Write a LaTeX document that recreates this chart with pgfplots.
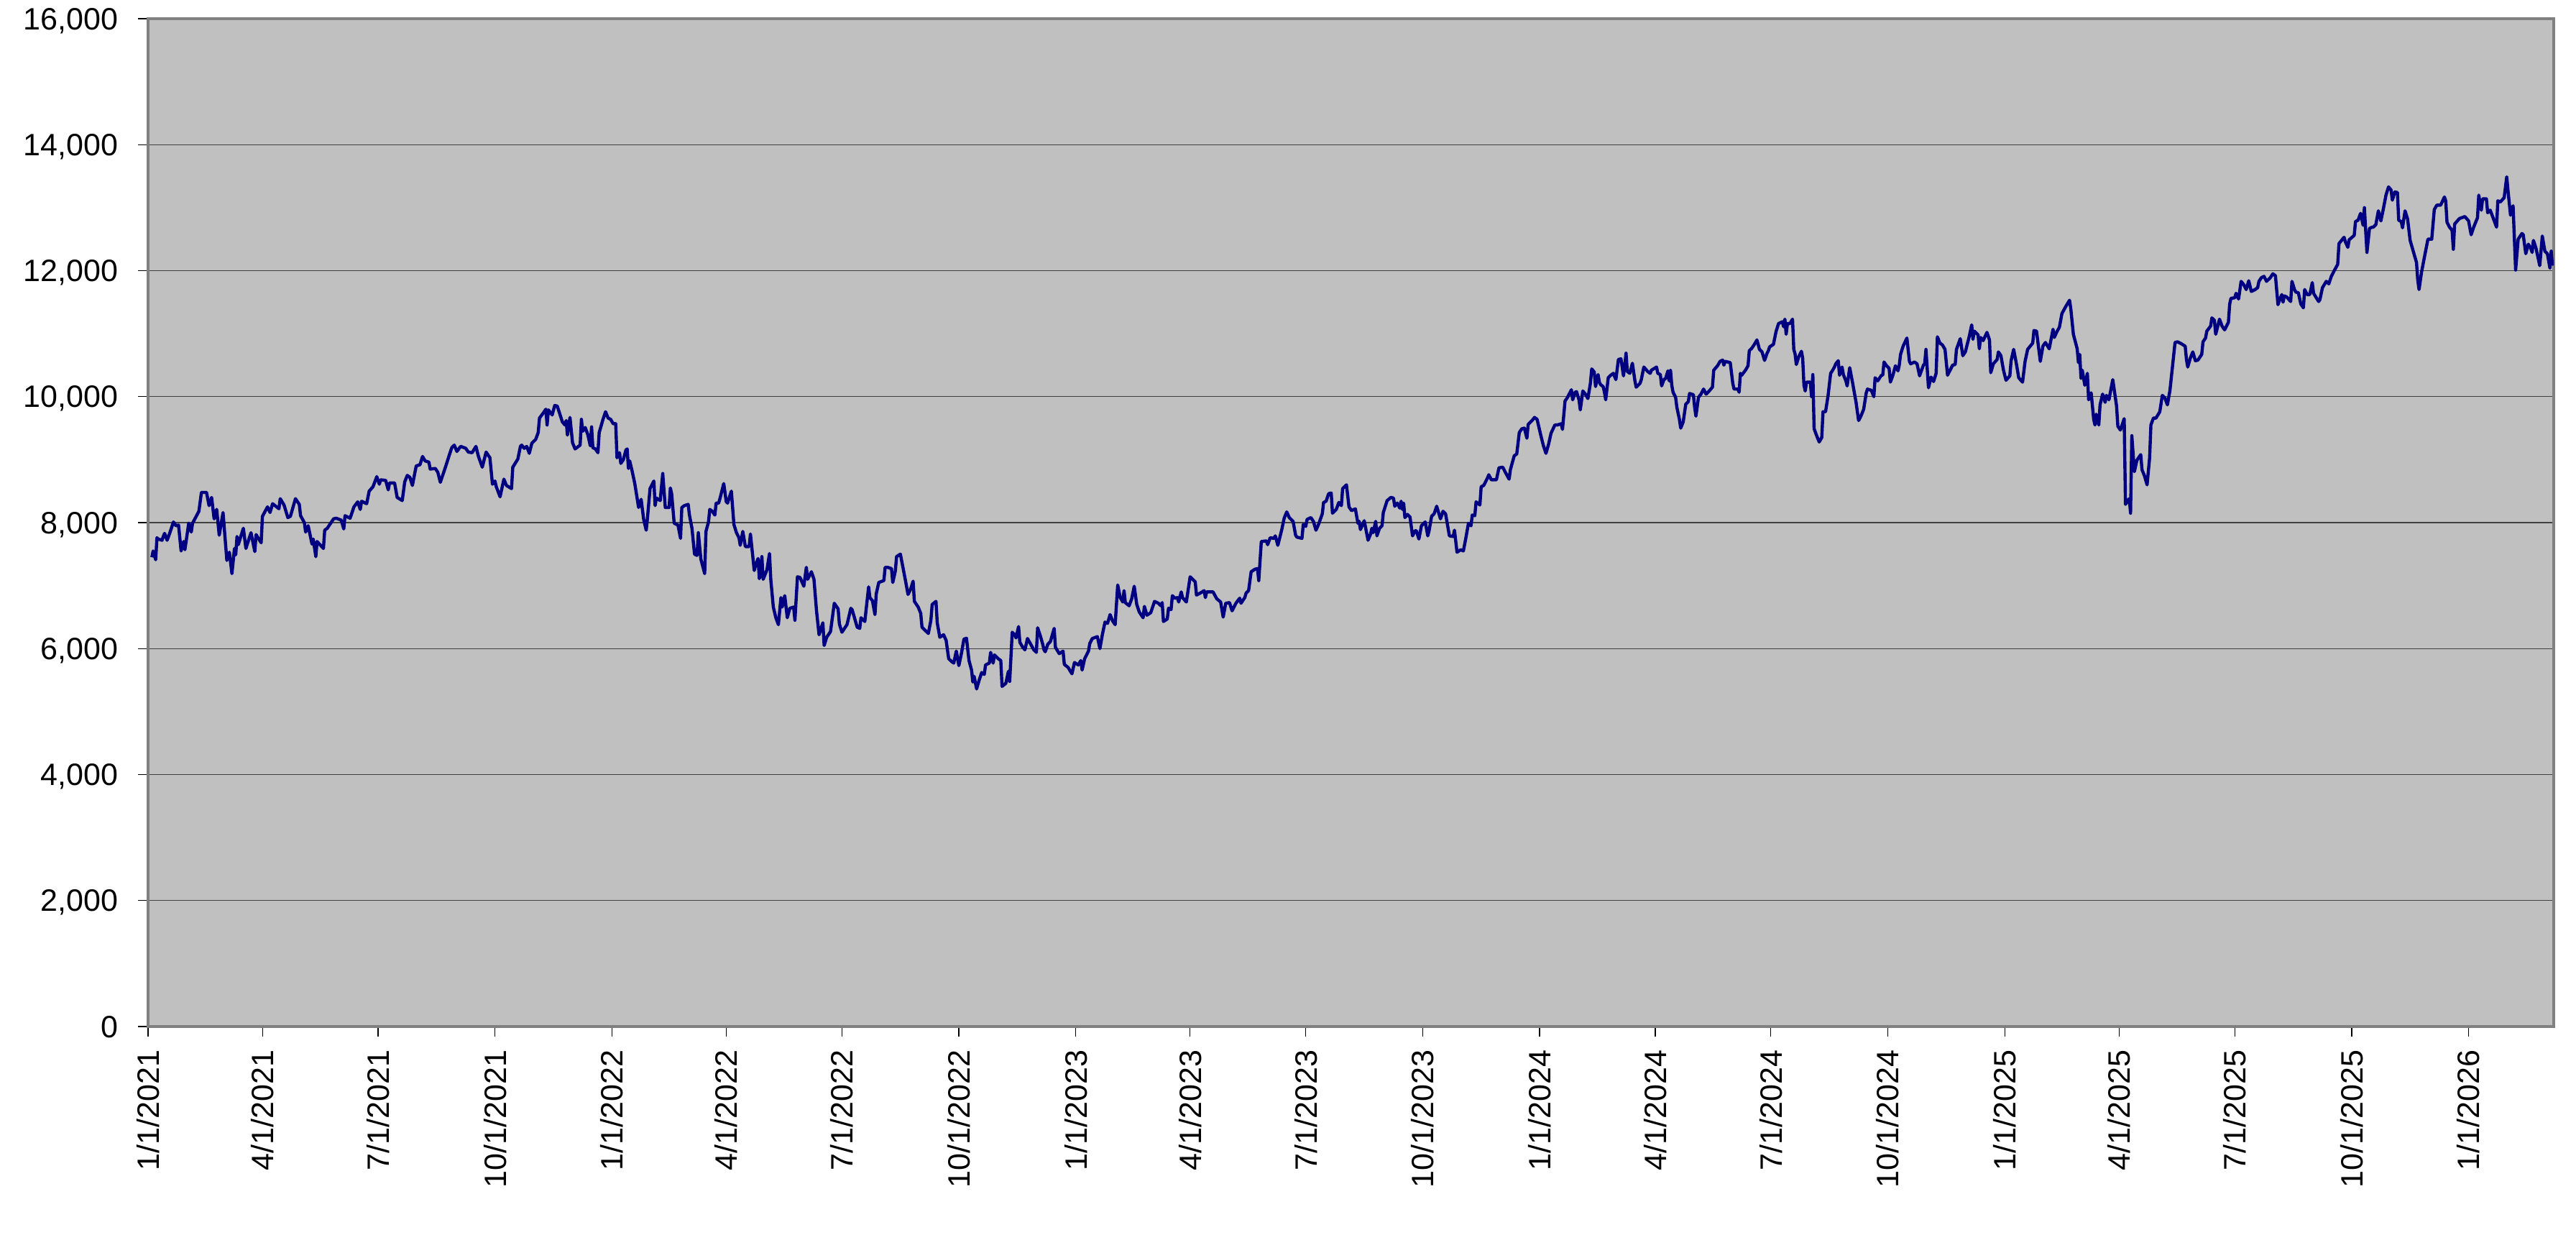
\documentclass[border=0pt]{standalone}
\usepackage{fontspec}
\setmainfont{Liberation Sans}
\usepackage{pgfplots}
\pgfplotsset{compat=1.18}
\usepackage{pgfplotstable}
\definecolor{bggray}{RGB}{192,192,192}
\definecolor{framegray}{RGB}{128,128,128}
\definecolor{gridgray}{RGB}{64,64,64}
\definecolor{navyline}{RGB}{0,0,128}
\pgfplotstableread{
day value
3 7450
4 7550
6 7410
7 7760
8 7740
11 7720
12 7780
13 7830
15 7720
17 7830
20 8010
22 7950
24 7960
26 7550
28 7700
29 7570
32 7990
34 7850
35 7990
40 8180
42 8480
46 8480
48 8270
50 8400
52 8060
54 8210
56 7800
59 8160
62 7400
64 7530
66 7190
68 7590
69 7490
70 7780
71 7650
75 7910
77 7590
81 7840
84 7540
85 7810
89 7680
90 8100
94 8250
96 8160
98 8300
103 8220
104 8380
107 8280
110 8080
112 8100
116 8380
119 8290
120 8110
123 8000
124 7850
126 7950
129 7660
130 7740
132 7460
133 7700
138 7590
139 7880
141 7910
146 8060
148 8070
152 8040
154 7900
155 8110
159 8070
162 8250
165 8330
167 8210
168 8340
172 8300
174 8500
177 8570
180 8730
182 8610
183 8680
187 8670
189 8520
190 8630
194 8630
196 8400
200 8350
202 8650
204 8750
206 8720
208 8590
211 8900
214 8920
216 9050
218 8980
221 8960
222 8850
226 8860
228 8800
230 8640
234 8880
237 9070
239 9190
241 9230
243 9130
246 9210
250 9180
252 9120
255 9110
258 9210
260 9050
263 8880
266 9120
269 9030
271 8610
273 8660
274 8570
277 8410
280 8690
282 8590
286 8540
287 8880
291 9010
293 9210
294 9230
296 9180
298 9210
300 9100
302 9260
305 9320
307 9430
308 9660
311 9740
313 9800
314 9550
315 9790
318 9710
320 9860
322 9850
326 9600
328 9550
329 9620
330 9390
332 9670
334 9270
336 9170
340 9230
341 9640
342 9450
344 9510
346 9400
348 9220
349 9520
350 9190
352 9170
354 9110
355 9430
358 9640
360 9760
362 9660
364 9640
366 9570
368 9570
369 9030
371 9110
372 8940
374 9000
376 9150
377 9170
378 8860
379 8980
381 8810
383 8620
386 8240
388 8370
390 8050
392 7880
393 8080
395 8540
398 8660
399 8270
400 8390
403 8350
405 8780
407 8240
410 8240
411 8550
412 8460
414 7990
417 7960
419 7750
420 8240
422 8270
425 8290
426 8120
428 7910
430 7500
432 7480
433 7840
435 7420
438 7190
439 7860
441 8010
442 8210
444 8180
446 8120
447 8310
449 8310
450 8380
453 8620
455 8330
456 8310
459 8500
461 7970
463 7840
465 7760
466 7640
468 7860
470 7620
473 7620
474 7820
477 7240
478 7320
480 7430
481 7110
482 7210
483 7460
484 7100
487 7250
489 7510
490 7100
492 6660
494 6490
496 6380
498 6810
499 6660
501 6840
503 6490
505 6640
508 6660
509 6450
511 7140
513 7130
516 6990
518 7290
519 7100
522 7220
524 7100
526 6600
528 6220
531 6410
532 6050
534 6180
537 6270
540 6720
543 6630
544 6390
546 6260
550 6380
553 6640
554 6620
558 6340
560 6320
561 6490
564 6430
567 6980
568 6810
570 6760
572 6540
573 6870
575 7050
579 7080
580 7290
582 7290
585 7270
586 7050
588 7230
589 7460
592 7500
594 7290
596 7080
598 6860
600 6940
602 7070
603 6750
606 6660
608 6560
609 6340
614 6240
616 6450
617 6700
620 6750
621 6410
623 6180
626 6220
628 6130
630 5840
632 5800
634 5770
636 5960
638 5730
640 5920
642 6150
644 6165
646 5810
648 5660
649 5470
650 5560
652 5360
654 5500
656 5620
658 5590
659 5740
662 5770
663 5940
665 5770
666 5900
669 5840
671 5810
672 5400
675 5450
677 5640
678 5480
680 6260
682 6220
683 6170
685 6350
686 6100
688 6030
690 5980
692 6160
694 6090
697 5980
699 5940
700 6330
702 6210
704 6070
705 5980
706 5950
708 6070
710 6110
713 6320
714 6020
717 5920
720 5960
721 5750
724 5700
727 5600
729 5780
732 5740
734 5810
735 5660
737 5840
740 5960
741 6080
743 6160
747 6190
749 6000
751 6230
753 6420
755 6400
757 6540
759 6440
761 6380
763 7010
765 6810
767 6740
768 6920
769 6730
772 6680
774 6790
776 6990
778 6700
780 6580
783 6490
784 6670
786 6530
789 6570
792 6750
795 6720
797 6680
798 6730
799 6430
802 6470
803 6640
805 6620
806 6840
808 6800
810 6810
811 6740
813 6900
814 6810
817 6740
820 7140
824 7060
825 6850
827 6870
831 6920
832 6810
833 6900
838 6900
841 6790
844 6740
846 6500
848 6720
851 6730
853 6600
856 6720
859 6800
860 6720
863 6810
864 6880
866 6920
868 7220
871 7260
873 7270
874 7080
876 7700
880 7710
881 7650
883 7760
886 7750
887 7790
889 7640
892 7880
894 8070
896 8170
898 8080
901 8020
903 7800
904 7770
908 7750
909 7970
911 7940
912 8050
915 8080
917 8020
919 7880
921 7970
924 8140
925 8320
927 8340
929 8460
931 8470
932 8150
935 8210
937 8320
939 8270
940 8540
943 8600
945 8250
947 8190
950 8220
952 7990
953 8020
954 7890
957 8030
960 7720
962 7820
963 7910
964 7840
966 8020
967 7790
969 7910
971 7950
972 8160
975 8350
978 8400
980 8390
981 8260
983 8310
985 8230
986 8340
987 8210
988 8310
989 8080
991 8130
993 8090
995 7790
997 7870
998 7870
1000 7740
1002 7950
1005 8010
1007 7790
1008 7870
1010 8100
1012 8140
1014 8260
1017 8060
1019 8180
1021 8140
1024 7790
1027 7780
1028 7880
1030 7530
1033 7570
1035 7550
1037 7760
1039 7990
1041 7950
1042 8120
1044 8110
1045 8330
1048 8280
1049 8570
1051 8590
1054 8710
1055 8760
1057 8680
1061 8680
1063 8870
1066 8880
1068 8800
1071 8690
1072 8840
1075 9060
1077 9090
1079 9430
1081 9490
1083 9500
1085 9340
1086 9560
1089 9620
1091 9670
1093 9640
1096 9380
1098 9220
1100 9100
1102 9240
1104 9420
1107 9550
1109 9550
1112 9570
1113 9480
1115 9930
1117 9990
1120 10110
1121 9950
1123 10070
1124 10080
1126 9950
1127 9790
1129 10090
1131 10040
1133 9970
1135 10220
1136 10440
1138 10390
1139 10160
1141 10350
1142 10230
1143 10190
1145 10160
1146 10070
1147 9950
1149 10300
1151 10340
1153 10370
1155 10270
1157 10590
1159 10600
1161 10330
1162 10500
1163 10690
1164 10400
1166 10370
1168 10530
1170 10250
1171 10150
1174 10210
1175 10270
1177 10470
1180 10400
1182 10370
1183 10420
1187 10470
1188 10370
1190 10350
1191 10170
1193 10280
1194 10280
1196 10410
1197 10250
1198 10420
1199 10180
1200 10070
1202 9990
1203 9830
1205 9640
1206 9500
1208 9600
1210 9880
1212 9920
1213 10050
1216 10030
1217 9830
1218 9690
1220 9990
1222 10040
1224 10120
1226 10040
1228 10080
1231 10150
1232 10420
1235 10490
1237 10560
1239 10580
1240 10500
1241 10560
1245 10540
1247 10210
1248 10120
1251 10120
1252 10070
1253 10370
1254 10340
1257 10420
1259 10490
1260 10730
1262 10770
1264 10830
1266 10900
1268 10750
1270 10710
1272 10575
1274 10690
1275 10730
1276 10790
1279 10830
1281 11030
1283 11160
1286 11190
1287 11110
1288 11230
1289 10990
1290 11160
1292 11160
1294 11230
1295 10750
1296 10680
1297 10510
1299 10640
1301 10720
1302 10610
1303 10180
1304 10090
1305 10230
1308 10230
1309 10000
1310 10350
1311 9490
1313 9380
1315 9280
1317 9350
1318 9760
1320 9760
1322 10020
1324 10370
1325 10400
1327 10470
1328 10520
1330 10570
1331 10340
1333 10470
1334 10350
1336 10250
1337 10170
1339 10460
1341 10250
1344 9910
1346 9620
1348 9700
1350 9800
1352 10060
1353 10120
1356 10100
1358 10000
1359 10300
1361 10250
1364 10340
1365 10340
1366 10550
1368 10490
1370 10450
1371 10230
1373 10340
1375 10490
1377 10410
1378 10500
1379 10670
1381 10800
1384 10930
1386 10560
1387 10520
1390 10550
1392 10520
1394 10330
1397 10500
1398 10520
1399 10750
1401 10140
1403 10310
1405 10240
1407 10370
1408 10950
1410 10850
1412 10820
1414 10750
1416 10340
1420 10500
1422 10510
1423 10750
1426 10920
1428 10650
1430 10710
1433 10950
1435 11140
1436 10910
1437 11040
1440 10980
1441 10760
1442 10940
1444 10890
1447 11020
1449 10900
1450 10380
1452 10520
1455 10590
1456 10710
1458 10650
1460 10420
1462 10260
1465 10330
1466 10570
1468 10750
1470 10540
1472 10300
1475 10230
1477 10560
1479 10750
1483 10850
1484 11050
1486 11040
1489 10560
1491 10800
1493 10860
1496 10760
1499 11070
1500 10940
1502 11030
1504 11100
1506 11320
1509 11430
1512 11530
1513 11390
1515 10990
1518 10760
1519 10540
1520 10670
1521 10290
1522 10420
1524 10180
1525 10270
1526 10370
1527 9950
1529 10060
1531 9640
1532 9550
1533 9720
1535 9550
1536 9870
1538 10040
1540 9910
1541 10020
1543 9950
1546 10270
1549 9850
1550 9530
1552 9470
1555 9650
1556 8290
1559 8380
1560 8150
1561 9380
1563 8810
1565 8990
1568 9080
1569 8840
1571 8740
1573 8600
1575 9030
1576 9550
1578 9660
1580 9660
1583 9760
1585 10020
1587 9980
1589 9870
1591 10100
1593 10480
1595 10860
1597 10870
1600 10840
1603 10800
1604 10590
1605 10470
1607 10610
1609 10710
1611 10570
1613 10580
1616 10670
1617 10870
1619 10930
1620 11040
1623 11120
1624 11250
1626 11210
1627 10990
1630 11230
1632 11120
1634 11060
1637 11180
1638 11470
1639 11560
1642 11570
1643 11640
1645 11550
1647 11830
1649 11780
1651 11700
1653 11840
1655 11670
1658 11700
1660 11730
1661 11830
1663 11890
1665 11910
1667 11830
1670 11890
1672 11950
1674 11920
1676 11460
1677 11520
1679 11620
1680 11500
1681 11600
1683 11580
1686 11510
1687 11830
1689 11700
1690 11660
1692 11650
1694 11470
1696 11410
1697 11700
1699 11620
1701 11620
1703 11810
1704 11640
1708 11510
1709 11540
1711 11730
1714 11830
1716 11790
1718 11910
1720 11990
1723 12100
1724 12430
1728 12530
1729 12460
1731 12370
1732 12490
1736 12560
1737 12780
1739 12800
1741 12910
1743 12720
1744 13000
1746 12290
1748 12670
1750 12690
1751 12690
1753 12730
1755 12950
1757 12790
1759 12990
1761 13200
1763 13330
1765 13280
1766 13120
1768 13250
1770 13240
1771 12800
1773 12780
1774 12680
1776 12950
1778 12820
1780 12480
1783 12270
1785 12130
1786 11850
1787 11700
1789 11980
1791 12190
1794 12500
1797 12500
1799 12970
1801 13040
1804 13040
1807 13170
1808 13110
1809 12770
1811 12690
1813 12640
1814 12340
1815 12740
1818 12810
1819 12830
1822 12850
1823 12860
1826 12790
1828 12570
1830 12690
1833 12840
1834 13200
1836 12960
1837 13140
1840 13140
1841 12920
1843 12960
1846 12800
1848 12690
1849 13110
1851 13090
1854 13160
1856 13490
1857 13270
1859 12880
1861 13030
1863 12010
1865 12500
1868 12590
1869 12570
1871 12270
1873 12420
1875 12350
1876 12290
1877 12480
1879 12360
1882 12080
1884 12550
1886 12310
1888 12270
1890 12040
1891 12310
1892 12080
}\series
\begin{document}
\begin{tikzpicture}
\path[use as bounding box] (-51.5pt,-72.25pt) rectangle (844.5pt,357pt);
\begin{axis}[
  scale only axis,
  width=836.75pt, height=350.5pt,
  xmin=0, xmax=1893,
  ymin=0, ymax=16000,
  axis background/.style={fill=bggray},
  axis line style={draw=framegray, line width=1pt},
  ytick={0,2000,...,16000},
  xtick={0,90,181,273,365,455,546,638,730,820,911,1003,1095,1186,1277,1369,1461,1551,1642,1734,1826},
  xticklabels={1/1/2021,4/1/2021,7/1/2021,10/1/2021,1/1/2022,4/1/2022,7/1/2022,10/1/2022,1/1/2023,4/1/2023,7/1/2023,10/1/2023,1/1/2024,4/1/2024,7/1/2024,10/1/2024,1/1/2025,4/1/2025,7/1/2025,10/1/2025,1/1/2026},
  xtick pos=bottom, ytick pos=left,
  tick align=outside,
  major tick length=3.5pt,
  every tick/.style={black, line width=0.3pt},
  ymajorgrids,
  major grid style={draw=gridgray, line width=0.3pt},
  scaled y ticks=false,
  /pgf/number format/.cd, 1000 sep={,}, assume math mode=true, /pgfplots/.cd,
  every tick label/.append style={font=\fontsize{10.75pt}{12pt}\selectfont, text=black},
  yticklabel style={anchor=east, inner sep=0pt, text depth=0pt, xshift=-6.75pt},
  xticklabel style={yshift=-4.5pt, rotate=90, anchor=east, inner sep=0pt},
]
\addplot[color=navyline, line width=1.1pt, line join=round, mark=none] table[x=day, y=value] {\series};
\end{axis}
\end{tikzpicture}
\end{document}
